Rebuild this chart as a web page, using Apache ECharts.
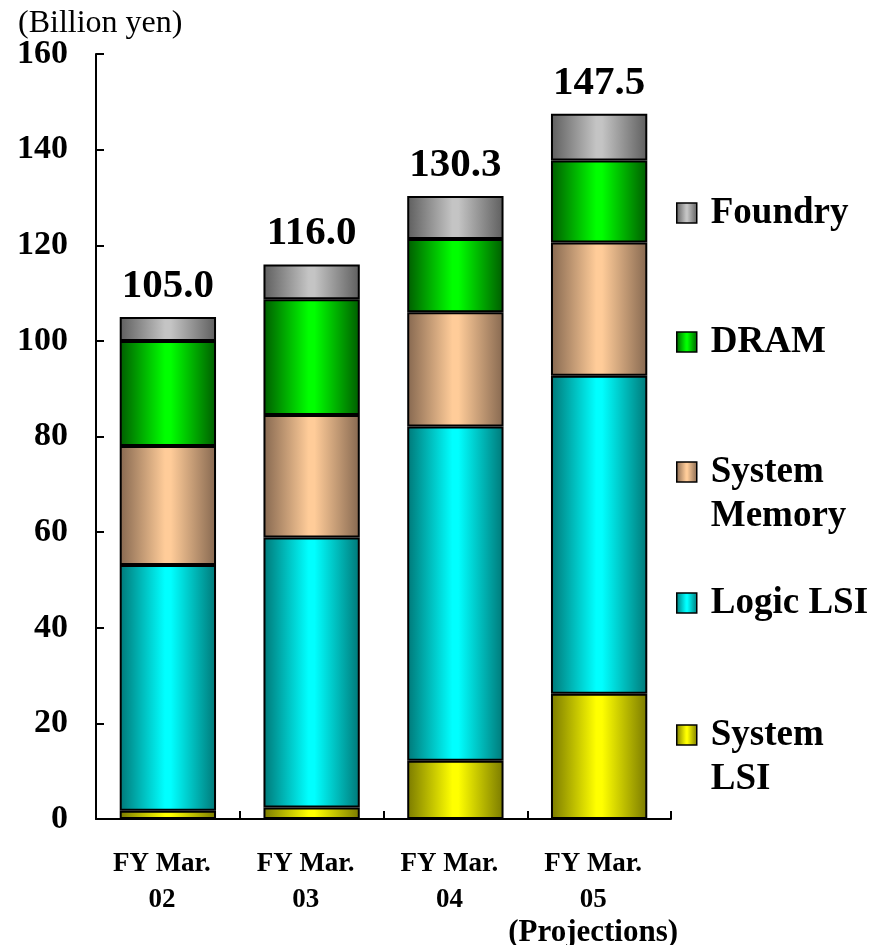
<!DOCTYPE html>
<html>
<head>
<meta charset="utf-8">
<script src="https://cdn.jsdelivr.net/npm/echarts@6/dist/echarts.min.js"></script>
<style>
  html, body { margin: 0; padding: 0; background: #fff; }
  #chart { width: 874px; height: 945px; }
</style>
</head>
<body>
<div id="chart"></div>
<script>
// Semiconductor sales by product, billion yen
const categories = ['FY Mar.\n02', 'FY Mar.\n03', 'FY Mar.\n04', 'FY Mar.\n05\n(Projections)'];
const systemLSI    = [1.7, 2.4, 12.2, 26.2];
const logicLSI     = [51.4, 56.5, 69.9, 66.5];
const systemMemory = [24.9, 25.6, 23.9, 27.9];
const dram         = [22.0, 24.2, 15.3, 17.1];
const foundry      = [5.0, 7.3, 9.0, 9.8];
const yTicks = { min: 0, max: 160, interval: 20 };

const FONT = '"Liberation Serif", "Times New Roman", serif';

// Horizontal shading: dark edges, bright middle
function shade(edge, mid) {
  return new echarts.graphic.LinearGradient(0, 0, 1, 0, [
    { offset: 0, color: edge },
    { offset: 0.47, color: mid },
    { offset: 0.53, color: mid },
    { offset: 1, color: edge }
  ]);
}

const seriesDefs = [
  { name: 'System\nLSI',    data: systemLSI,    color: shade('#7a7a00', '#ffff00'), legendTop: 669, twoLine: true },
  { name: 'Logic LSI',      data: logicLSI,     color: shade('#007878', '#00ffff'), legendTop: 581 },
  { name: 'System\nMemory', data: systemMemory, color: shade('#866850', '#ffcc99'), legendTop: 406, twoLine: true },
  { name: 'DRAM',           data: dram,         color: shade('#005c00', '#00ff00'), legendTop: 320 },
  { name: 'Foundry',        data: foundry,      color: shade('#5e5e5e', '#c4c4c4'), legendTop: 191 }
];

const totals = categories.map((_, i) =>
  seriesDefs.reduce((s, d) => s + d.data[i], 0));

const series = seriesDefs.map((d, k) => ({
  name: d.name,
  type: 'bar',
  stack: 'total',
  barWidth: '67%',
  data: d.data,
  itemStyle: { color: d.color, borderColor: '#000', borderWidth: 2 },
  emphasis: { disabled: true },
  label: k === seriesDefs.length - 1 ? {
    show: true,
    position: 'top',
    distance: 10,
    formatter: p => totals[p.dataIndex].toFixed(1),
    color: '#000',
    fontFamily: FONT,
    fontWeight: 'bold',
    fontSize: 41
  } : { show: false }
}));

// One legend block per item; two-line names get a blank leading line so
// the swatch sits beside the first line of text.
const legends = seriesDefs.map(d => ({
  data: [d.name],
  orient: 'vertical',
  left: 676,
  top: d.legendTop,
  padding: 0,
  icon: 'rect',
  itemWidth: 20,
  itemHeight: 20,
  itemStyle: { borderColor: '#000', borderWidth: 1.5 },
  formatter: name => (d.twoLine ? ' \n' + name : name),
  textStyle: {
    color: '#000',
    fontFamily: FONT,
    fontWeight: 'bold',
    fontSize: 37,
    lineHeight: 44,
    padding: [0, 0, 0, 9]
  }
}));

const chart = echarts.init(document.getElementById('chart'), null, { renderer: 'canvas' });
chart.setOption({
  animation: false,
  backgroundColor: '#fff',
  title: {
    text: '(Billion yen)',
    left: 13,
    top: 3,
    textStyle: { color: '#000', fontFamily: FONT, fontWeight: 'normal', fontSize: 32 }
  },
  legend: legends,
  grid: { left: 96, right: 203, top: 54, bottom: 126, containLabel: false, outerBoundsMode: 'none' },
  xAxis: {
    type: 'category',
    data: categories,
    axisLine: { lineStyle: { color: '#000', width: 2 } },
    axisTick: { show: true, inside: true, length: 8, interval: 0, alignWithLabel: false, lineStyle: { color: '#000', width: 2 } },
    axisLabel: {
      interval: 0,
      color: '#000',
      fontFamily: FONT,
      fontWeight: 'bold',
      fontSize: 27,
      lineHeight: 36,
      margin: 27,
      padding: [0, 12, 0, 0],
      formatter: v => v.replace(/\((.*)\)/, '{p|($1)}'),
      rich: {
        p: { fontFamily: FONT, fontWeight: 'bold', fontSize: 31, lineHeight: 29, color: '#000' }
      }
    }
  },
  yAxis: {
    type: 'value',
    min: yTicks.min,
    max: yTicks.max,
    interval: yTicks.interval,
    splitLine: { show: false },
    axisLine: { show: true, lineStyle: { color: '#000', width: 2 } },
    axisTick: { show: true, inside: true, length: 8, lineStyle: { color: '#000', width: 2 } },
    axisLabel: {
      color: '#000',
      fontFamily: FONT,
      fontWeight: 'bold',
      fontSize: 34,
      margin: 28
    }
  },
  series: series
});
</script>
</body>
</html>
